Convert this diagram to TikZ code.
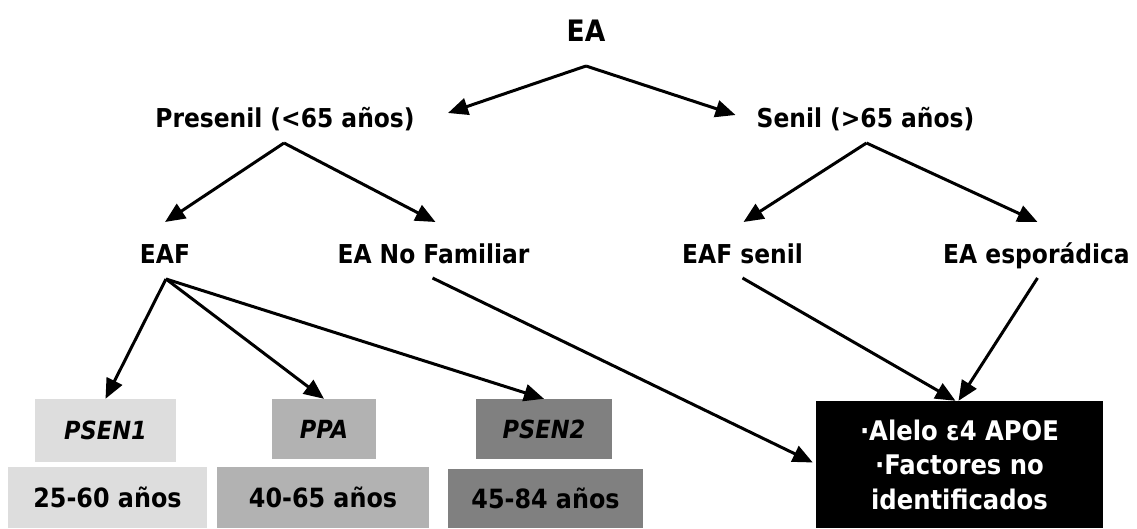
\documentclass[tikz,border=0pt]{standalone}
\usepackage{fontspec}
\setmainfont{DejaVu Sans Condensed}
\usetikzlibrary{arrows.meta,calc}
\definecolor{lightbox}{HTML}{DDDDDD}
\definecolor{midbox}{HTML}{B2B2B2}
\definecolor{darkbox}{HTML}{808080}
\begin{document}
\begin{tikzpicture}[x=1pt,y=-1pt,
  lbl/.style={font=\bfseries\fontsize{26}{30}\selectfont, inner sep=0pt, anchor=base},
  toplbl/.style={lbl, font=\bfseries\fontsize{29.5}{34}\selectfont},
  genebox/.style={font=\bfseries\itshape\fontsize{25}{29}\selectfont, inner sep=0pt},
  agebox/.style={font=\bfseries\fontsize{26.5}{30}\selectfont, inner sep=0pt},
  riskbox/.style={fill=black, text=white, align=center, inner sep=0pt,
    font=\bfseries\fontsize{27}{34.5}\selectfont},
  arr/.style={line width=3pt, -{Triangle[length=20pt,width=17pt]}}]
\useasboundingbox (0,0) rectangle (1137,528);

% tree labels
\node[toplbl] (ea)    at (586,41)   {EA};
\node[lbl]    (pre)   at (285,127)  {Presenil (<65 años)};
\node[lbl]    (sen)   at (865.5,127){Senil (>65 años)};
\node[lbl]    (eaf)   at (165,263)  {EAF};
\node[lbl]    (nofam) at (433.5,263){EA No Familiar};
\node[lbl]    (eafs)  at (742.5,263){EAF senil};
\node[lbl]    (espo)  at (1036.5,263){EA esporádica};

% genes and ages of onset
\node[genebox, fill=lightbox, minimum width=141pt, minimum height=63pt] (psen1) at (105.5,430.5) {PSEN1};
\node[genebox, fill=midbox,   minimum width=104pt, minimum height=60pt] (ppa)   at (324,429)    {PPA};
\node[genebox, fill=darkbox,  minimum width=136pt, minimum height=60pt] (psen2) at (544,429)    {PSEN2};
\node[agebox, fill=lightbox, minimum width=199pt, minimum height=61pt] (age1) at (107.5,497.5) {25-60 años};
\node[agebox, fill=midbox,   minimum width=212pt, minimum height=61pt] (age2) at (323,497.5)   {40-65 años};
\node[agebox, fill=darkbox,  minimum width=195pt, minimum height=59pt] (age3) at (545.5,498.5) {45-84 años};

% risk factors of the late-onset forms
\node[riskbox, minimum width=287pt, minimum height=127pt] (risk) at (959.5,464.5)
  {·Alelo ε4 APOE\\·Factores no\\identificados};

% connectors
\draw[arr] ($(ea.base)+(0,25)$) -- ($(pre.base)+(163,-14)$);
\draw[arr] ($(ea.base)+(0,25)$) -- ($(sen.base)+(-130,-12)$);
\draw[arr] ($(pre.base)+(-1,16)$) -- ($(eaf.base)+(0,-41)$);
\draw[arr] ($(pre.base)+(-1,16)$) -- ($(nofam.base)+(2,-41)$);
\draw[arr] ($(sen.base)+(1,16)$) -- ($(eafs.base)+(1,-41)$);
\draw[arr] ($(sen.base)+(1,16)$) -- ($(espo.base)+(1,-41)$);
\draw[arr] ($(eaf.base)+(1,16)$) -- (psen1.north);
\draw[arr] ($(eaf.base)+(1,16)$) -- (ppa.north);
\draw[arr] ($(eaf.base)+(1,16)$) -- (psen2.north);
\draw[arr] ($(nofam.base)+(-1,15)$) -- ([xshift=-3pt,yshift=2pt]risk.west);
\draw[arr] ($(eafs.base)+(0,15)$) -- ([xshift=-4pt]risk.north);
\draw[arr] ($(espo.base)+(1,15)$) -- ([xshift=-1pt]risk.north);
\end{tikzpicture}
\end{document}
